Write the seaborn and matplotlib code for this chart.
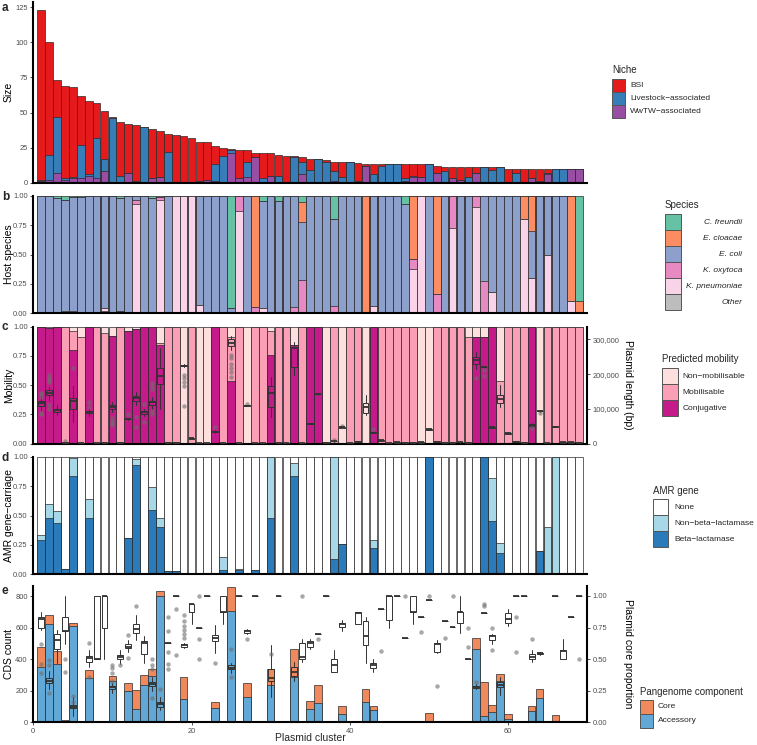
import matplotlib
matplotlib.use("Agg")
import matplotlib.pyplot as plt
import seaborn as sns
import numpy as np
from matplotlib.patches import Rectangle

sns.set_theme(style="white")
plt.rcParams["font.family"] = ["Liberation Sans", "DejaVu Sans"]

clusters = list(range(1, 70))

# ---------------- panel a : cluster size by niche ----------------
niche_bsi = [121, 80, 26, 66, 64, 35, 52, 25, 34, 1, 38, 35, 40, 0, 35, 33, 13, 34, 33, 32,
             28, 27, 13, 6, 1, 20, 8, 3, 18, 16, 15, 19, 1, 3, 8, 0, 1, 7, 11, 0,
             13, 1, 7, 1, 0, 0, 10, 8, 9, 0, 5, 3, 8, 9, 7, 4, 0, 2, 0, 10,
             3, 10, 7, 9, 3, 0, 0, 0, 0]
niche_live = [1, 18, 40, 1, 1, 24, 1, 29, 9, 46, 5, 0, 1, 40, 0, 0, 22, 0, 0, 0,
              0, 0, 12, 19, 2, 0, 11, 0, 3, 0, 5, 0, 18, 9, 9, 17, 15, 7, 4, 15,
              0, 0, 6, 12, 13, 13, 2, 1, 0, 13, 0, 8, 0, 0, 4, 0, 11, 9, 11, 0,
              7, 0, 0, 1, 1, 10, 10, 0, 0]
niche_wwtw = [1, 2, 7, 2, 3, 3, 5, 3, 8, 0, 0, 7, 0, 0, 3, 4, 0, 0, 0, 0,
              1, 2, 1, 0, 21, 3, 4, 18, 0, 5, 0, 0, 0, 6, 0, 0, 0, 1, 0, 0,
              1, 12, 0, 0, 0, 0, 1, 4, 4, 0, 7, 0, 3, 2, 0, 7, 0, 0, 0, 0,
              0, 0, 3, 0, 6, 0, 0, 10, 10]
niche_labels = ["BSI", "Livestock\u2212associated", "WwTW\u2212associated"]
niche_colors = ["#E41A1C", "#377EB8", "#984EA3"]

# ---------------- panel b : host species proportions ----------------
sp_cfreundii = [0, 0, .02, .03, .01, .01, 0, 0, 0, 0, .02, 0, 0, 0, .02, .01, 0, 0, 0, 0,
                0, 0, 0, 0, .96, 0, 0, 0, .04, 0, .04, 0, 0, .05, 0, 0, 0, .20, 0, 0,
                0, 0, 0, 0, 0, 0, .07, 0, 0, 0, 0, 0, 0, 0, 0, 0, 0, 0, 0, 0,
                0, 0, 0, 0, 0, 0, 0, 0, .90]
sp_ecloacae = [0, 0, 0, 0, 0, 0, 0, 0, 0, 0, 0, 0, 0, 0, 0, 0, 0, 0, 0, 0,
               0, 0, 0, 0, 0, 0, 0, .95, 0, 0, 0, 0, 0, .17, 0, 0, 0, 0, 0, 0,
               0, 1, 0, 0, 0, 0, 0, .54, 0, 0, .84, 0, 0, 0, 0, 0, 0, 0, 0, 0,
               0, .20, .30, 0, 0, 0, 0, .90, .10]
sp_ecoli = [1, .99, .97, .95, .97, .98, 1, 1, .96, 1, .96, 1, .03, 1, .98, 0, 1, 0, 0, 0,
            .93, 1, 1, 1, .04, 0, 1, 0, .92, 1, .96, 1, .95, .50, 1, 1, 1, .74, 1, 1,
            1, 0, .94, 1, 1, 1, .93, 0, 0, 1, 0, 1, 0, 1, 1, 0, .73, .82, 1, 1,
            1, 0, .40, 1, .50, 1, 1, 0, 0]
sp_koxytoca = [0, 0, 0, 0, 0, 0, 0, 0, 0, 0, 0, 0, .04, 0, 0, .02, 0, 0, 0, 0,
               0, 0, 0, 0, 0, .13, 0, .05, 0, 0, 0, 0, .05, .28, 0, 0, 0, .06, 0, 0,
               0, 0, 0, 0, 0, 0, 0, .08, 0, 0, .16, 0, .27, 0, 0, .09, .27, 0, 0, 0,
               0, 0, 0, 0, 0, 0, 0, 0, 0]
sp_kpneumoniae = [0, 0, .01, .02, .02, 0, 0, 0, .02, 0, 0, 0, .93, 0, 0, .97, 0, 1, 1, 1,
                  .07, 0, 0, 0, 0, .87, 0, 0, .04, 0, 0, 0, 0, 0, 0, 0, 0, 0, 0, 0,
                  0, 0, .06, 0, 0, 0, 0, .38, 1, 0, 0, 0, .73, 0, 0, .91, 0, .18, 0, 0,
                  0, .80, .30, 0, .50, 0, 0, .10, 0]
sp_other = [0, .01, 0, 0, 0, .01, 0, 0, .02, 0, .02, 0, 0, 0, 0, 0, 0, 0, 0, 0,
            0, 0, 0, 0, 0, 0, 0, 0, 0, 0, 0, 0, 0, 0, 0, 0, 0, 0, 0, 0,
            0, 0, 0, 0, 0, 0, 0, 0, 0, 0, 0, 0, 0, 0, 0, 0, 0, 0, 0, 0,
            0, 0, 0, 0, 0, 0, 0, 0, 0]
species_labels = ["C. freundii", "E. cloacae", "E. coli", "K. oxytoca", "K. pneumoniae", "Other"]
species_colors = ["#66C2A5", "#FC8D62", "#8DA0CB", "#E78AC3", "#F9D3E7", "#BDBDBD"]

# ---------------- panel c : predicted mobility + plasmid length ----------------
mob_conj = [1, .99, 1, 0, .80, 0, 1, 0, 0, .92, 0, .96, .98, 1, 1, .84, 0, 0, 0, 0,
            0, 0, 1, 0, .54, 0, 0, 0, 0, .76, 0, 0, .84, 0, 1, 1, 0, 0, 0, 0,
            0, 0, 1, 0, 0, 0, 0, 0, 0, 0, 0, 0, 0, 0, 0, .91, .91, 1, 0, 0,
            0, 0, 1, 0, 0, 0, 0, 0, 0]
mob_mob = [0, 0, 0, 1, .16, .91, 0, 1, .95, 0, 1, 0, 0, 0, 0, .02, 1, 1, 0, 1,
           0, 0, 0, 1, .37, 1, 0, 1, 1, .20, 1, 1, 0, 1, 0, 0, 0, 1, 0, 1,
           1, 0, 0, 1, 1, 1, 1, 1, 0, 0, 1, 1, 1, 1, .91, 0, 0, 0, .54, 1,
           1, 1, 0, 0, 1, 1, 1, 1, 1]
mob_non = [0, .01, 0, 0, .04, .09, 0, 0, .05, .08, 0, .04, .02, 0, 0, .14, 0, 0, 1, 0,
           1, 1, 0, 0, .09, 0, 1, 0, 0, .04, 0, 0, .16, 0, 0, 0, 1, 0, 1, 0,
           0, 1, 0, 0, 0, 0, 0, 0, 1, 1, 0, 0, 0, 0, .09, .09, .09, 0, .46, 0,
           0, 0, 0, 1, 0, 0, 0, 0, 0]
mobility_labels = ["Non\u2212mobilisable", "Mobilisable", "Conjugative"]
mobility_colors = ["#FDE0DD", "#FA9FB5", "#C51B8A"]

len_med = [116000, 146000, 96000, 3000, 122000, 2000, 90000, 1500, 3000, 106000,
           3000, 71000, 130000, 90000, 119000, 195000, 3000, 3000, 224000, 15000,
           2000, 1500, 34000, 2000, 288000, 1500, 109000, 1500, 1500, 145000,
           3000, 2000, 274000, 2000, 58000, 143000, 3000, 8000, 47000, 2000,
           6000, 104000, 32000, 10000, 2000, 4000, 3000, 3000, 4000, 41000,
           6000, 3000, 3000, 5000, 3000, 240000, 220000, 47000, 128000, 30000,
           6000, 3000, 54000, 94000, 2000, 49000, 4000, 4000, 3000]
len_q1 = [109000, 140000, 90000, 2000, 99000, 1000, 87000, 1000, 2000, 100000,
          2000, 70000, 122000, 86000, 111000, 171000, 2000, 2000, 222000, 14000,
          1000, 1000, 33000, 1000, 280000, 1000, 108000, 1000, 1000, 105000,
          2000, 1000, 221000, 1000, 57000, 142000, 2000, 7000, 46000, 1000,
          5000, 87000, 31000, 9000, 1000, 3000, 2000, 2000, 3000, 40000,
          5000, 2000, 2000, 4000, 2000, 229000, 219000, 46000, 116000, 29000,
          5000, 2000, 50000, 93000, 1000, 48000, 3000, 3000, 2000]
len_q3 = [122000, 153000, 101000, 4000, 132000, 3000, 93000, 2000, 4000, 111000,
          4000, 72000, 137000, 93000, 124000, 216000, 4000, 4000, 226000, 16000,
          3000, 2000, 36000, 3000, 300000, 2000, 110000, 2000, 2000, 166000,
          4000, 3000, 278000, 3000, 59000, 144000, 4000, 9000, 48000, 3000,
          7000, 116000, 33000, 11000, 3000, 5000, 4000, 4000, 5000, 42000,
          7000, 4000, 4000, 6000, 4000, 250000, 221000, 48000, 140000, 31000,
          7000, 4000, 57000, 95000, 3000, 50000, 5000, 5000, 4000]
len_lo = [97000, 125000, 82000, 1000, 61000, 1000, 80000, 1000, 1000, 92000,
          1000, 69000, 111000, 80000, 100000, 101000, 1000, 1000, 220000, 13000,
          1000, 1000, 32000, 1000, 268000, 1000, 107000, 1000, 1000, 77000,
          1000, 1000, 197000, 1000, 56000, 141000, 1000, 6000, 45000, 1000,
          4000, 82000, 30000, 8000, 1000, 2000, 1000, 1000, 2000, 39000,
          4000, 1000, 1000, 3000, 1000, 215000, 218000, 45000, 106000, 28000,
          4000, 1000, 45000, 92000, 1000, 47000, 2000, 2000, 1000]
len_hi = [140000, 164000, 111000, 5000, 167000, 4000, 99000, 3000, 5000, 120000,
          5000, 73000, 149000, 99000, 135000, 274000, 5000, 5000, 228000, 17000,
          4000, 3000, 38000, 4000, 310000, 3000, 111000, 3000, 3000, 192000,
          5000, 4000, 293000, 4000, 60000, 145000, 5000, 10000, 49000, 4000,
          8000, 140000, 34000, 12000, 4000, 6000, 5000, 5000, 6000, 43000,
          8000, 5000, 5000, 7000, 5000, 262000, 222000, 49000, 168000, 32000,
          8000, 5000, 59000, 96000, 4000, 51000, 6000, 6000, 5000]
len_fliers = {1: [147000, 142000, 135000, 89000, 84000],
              2: [197000, 190000, 183000, 178000, 111000, 99000],
              4: [7000], 5: [218000], 7: [119000, 106000],
              10: [73000, 66000, 60000, 54000], 12: [86000], 13: [76000, 49000],
              14: [114000, 63000], 15: [173000, 165000, 158000, 94000, 84000],
              19: [197000, 188000, 178000, 167000, 109000], 23: [49000],
              25: [255000, 245000, 230000, 218000, 207000, 192000], 27: [113000],
              38: [11000], 39: [52000], 43: [41000], 56: [188000],
              57: [212000, 195000], 63: [46000], 64: [88000]}

# ---------------- panel d : AMR gene carriage ----------------
amr_beta = [.29, .48, .44, .045, .84, 0, .48, 0, 0, 0, 0, .31, .93, 0, .55, .40, .03, .03, 0, 0,
            0, 0, 0, .04, 0, .035, 0, .04, 0, .48, 0, 0, .84, 0, 0, 0, 0, .13, .26, 0,
            0, 0, .22, 0, 0, 0, 0, 0, 0, 1, 0, 0, 0, 0, 0, 0, 1, .45, .18, 0,
            0, 0, 0, .20, 0, 0, 0, 0, 0]
amr_nonbeta = [.04, .12, .10, 0, .15, 0, .16, 0, 0, 0, 0, 0, .05, 0, .19, .08, 0, 0, 0, 0,
               0, 0, 0, .11, 0, .01, 0, 0, 0, .52, 0, 0, .11, 0, 0, 0, 0, .87, 0, 0,
               0, 0, .07, 0, 0, 0, 0, 0, 0, 0, 0, 0, 0, 0, 0, 0, 0, .37, .09, 0,
               0, 0, 0, 0, .40, 1, 0, 0, 0]
amr_labels = ["None", "Non\u2212beta\u2212lactamase", "Beta\u2212lactamase"]
amr_colors = ["#FFFFFF", "#A6D8E8", "#2B7BBA"]

# ---------------- panel e : pangenome ----------------
cds_accessory = [349, 622, 372, 8, 612, 2, 279, 2, 2, 260, 3, 197, 83, 235, 294, 800, 8, 8, 146, 5,
                 2, 2, 93, 3, 705, 2, 163, 2, 2, 239, 3, 2, 290, 2, 83, 121, 2, 8, 51, 2,
                 2, 127, 78, 2, 0, 3, 2, 2, 0, 3, 5, 0, 3, 0, 0, 463, 40, 68, 265, 19,
                 3, 0, 70, 152, 0, 0, 3, 0, 0]
cds_core = [127, 59, 79, 4, 21, 0, 53, 0, 0, 34, 0, 51, 122, 63, 47, 36, 3, 3, 144, 5,
            0, 0, 34, 2, 156, 0, 85, 0, 0, 102, 7, 0, 178, 0, 50, 116, 0, 2, 55, 0,
            2, 83, 26, 8, 0, 0, 0, 3, 0, 54, 0, 0, 2, 0, 0, 70, 216, 42, 40, 32,
            0, 0, 34, 60, 0, 47, 0, 0, 0]
pan_labels = ["Core", "Accessory"]
pan_colors = ["#F08A5D", "#62A8D6"]

N = None
core_med = [.815, .33, .65, .72, .124, N, .507, .5, 1.0, .28, .515, .60, .74, .63, .30, .145, .625, 1.0, .61, .94,
            .75, 1.0, .665, .875, .43, 1.0, .72, 1.0, N, .35, 1.0, N, .40, .52, .63, .70, 1.0, .45, .775, N,
            .868, .683, .451, .9, 1.0, 1.0, .665, .876, .83, .966, .623, .8, .752, .87, .5, .277, .868, .68, .295, .82,
            1.0, 1.0, .52, .545, N, 1.0, .565, .83, 1.0]
core_q1 = [.75, .31, .58, .72, .11, N, .48, .5, .75, .26, .50, .59, .71, .54, .29, .12, .625, 1.0, .60, .87,
           .75, 1.0, .64, .875, .42, 1.0, .71, 1.0, N, .33, 1.0, N, .37, .50, .60, .70, 1.0, .40, .757, N,
           .778, .612, .433, .9, .81, 1.0, .665, .876, .83, .966, .557, .8, .752, .784, .5, .27, .868, .65, .28, .784,
           1.0, 1.0, .50, .54, N, 1.0, .50, .83, 1.0]
core_q3 = [.835, .35, .70, .83, .14, N, .525, 1.0, 1.0, .29, .53, .62, .78, .64, .32, .16, .625, 1.0, .62, .94,
           .75, 1.0, .69, 1.0, .45, 1.0, .73, 1.0, N, .42, 1.0, N, .44, .63, .645, .70, 1.0, .50, .79, N,
           .876, .805, .467, .9, 1.0, 1.0, .665, 1.0, .83, .966, .63, .8, .752, .876, .5, .285, .868, .69, .32, .868,
           1.0, 1.0, .54, .55, N, 1.0, .573, .83, 1.0]
core_lo = [.73, .26, .47, .62, .05, N, .44, .5, .5, .23, .46, .56, .65, .47, .25, .10, .625, 1.0, .59, .78,
           .75, 1.0, .55, .78, .39, 1.0, .70, 1.0, N, .20, 1.0, N, .33, .48, .58, .70, 1.0, .40, .72, N,
           .778, .472, .40, .9, .75, 1.0, .665, .78, .83, .966, .55, .8, .752, .705, .5, .26, .868, .62, .22, .76,
           1.0, 1.0, .475, .535, N, 1.0, .50, .83, 1.0]
core_hi = [.876, .41, .73, 1.0, .20, N, .57, 1.0, 1.0, .31, .57, .65, .85, .68, .36, .20, .625, 1.0, .63, .94,
           .75, 1.0, .77, 1.0, .47, 1.0, .74, 1.0, N, .61, 1.0, N, .48, .66, .66, .70, 1.0, .57, .81, N,
           .876, .836, .50, .9, 1.0, 1.0, .665, 1.0, .83, .966, .65, .8, .752, 1.0, .5, .30, .868, .70, .36, .90,
           1.0, 1.0, .57, .555, N, 1.0, .66, .83, 1.0]
core_fliers = {1: [.62, .46, .39], 2: [.49, .45, .23], 4: [.5, .4], 5: [.21, .16], 7: [.63, .36],
               10: [.45, .43, .39, .33], 11: [.45], 12: [.69, .51], 13: [.92], 15: [.5, .45, .42, .19],
               16: [.26], 17: [.83, .72, .56, .46, .42], 18: [.9, .53], 19: [.85, .80, .76, .73, .70, .67],
               21: [1.0, .66, .5], 23: [.47], 25: [.58, .36], 27: [.66], 30: [.54], 34: [1.0], 36: [.66],
               44: [.565], 47: [1.0], 49: [.715], 50: [1.0], 51: [.29], 52: [.665], 53: [1.0],
               55: [.6, .75], 56: [.32], 57: [.94, .92], 58: [.75, .57], 61: [.836, .554], 63: [.657], 69: [.5]}

# ================= drawing =================
W, H = 757, 745
fig = plt.figure(figsize=(W / 100, H / 100), dpi=100)
EDGE = "#2a2a2a"
TICKC = "#4D4D4D"


def rect(top, bottom, left=33.3, right=587.0):
    return [left / W, 1 - bottom / H, (right - left) / W, (bottom - top) / H]


def stacked(ax, layers, colors):
    """layers and colors ordered bottom -> top"""
    cum = np.cumsum(np.array(layers, dtype=float), axis=0)
    for i in range(len(layers) - 1, -1, -1):
        sns.barplot(x=clusters, y=cum[i], color=colors[i], saturation=1, native_scale=True,
                    width=0.97, edgecolor=EDGE, linewidth=0.5, errorbar=None, ax=ax)


def style(ax):
    for s in ["top", "right"]:
        ax.spines[s].set_visible(False)
    for s in ["left", "bottom"]:
        ax.spines[s].set_linewidth(1.5)
        ax.spines[s].set_color("black")
    ax.tick_params(axis="y", length=2.5, width=0.6, color="#333333", labelsize=5.4,
                   labelcolor=TICKC, pad=1.5, left=True)
    ax.set_xlim(0, 70)
    ax.set_xlabel("")


def style_right(ax2):
    for s in ["top", "left", "bottom"]:
        ax2.spines[s].set_visible(False)
    ax2.spines["right"].set_visible(True)
    ax2.spines["right"].set_linewidth(1.5)
    ax2.spines["right"].set_color("black")
    ax2.tick_params(axis="y", length=2.5, width=0.6, color="#333333", labelsize=5.4,
                    labelcolor=TICKC, pad=1.5, right=True)
    ax2.grid(False)


def boxes(ax, med, q1, q3, lo, hi, fliers):
    stats, pos = [], []
    for i, c in enumerate(clusters):
        if med[i] is None:
            continue
        stats.append(dict(med=med[i], q1=q1[i], q3=q3[i], whislo=lo[i], whishi=hi[i],
                          fliers=fliers.get(c, [])))
        pos.append(c)
    ax.bxp(stats, positions=pos, widths=0.75, patch_artist=True, showcaps=False,
           manage_ticks=False,
           boxprops=dict(facecolor="none", edgecolor="#333333", linewidth=0.7),
           medianprops=dict(color="#333333", linewidth=1.3),
           whiskerprops=dict(color="#333333", linewidth=0.7),
           flierprops=dict(marker="o", markerfacecolor="#6e6e6e", markeredgecolor="none",
                           markersize=3.2, alpha=0.6))


YLAB = dict(fontsize=7.5, color="black")

# panel a
ax_a = fig.add_axes(rect(2, 182.7))
stacked(ax_a, [niche_wwtw, niche_live, niche_bsi], niche_colors[::-1])
style(ax_a)
ax_a.set_ylim(0, 128.8)
ax_a.set_yticks([0, 25, 50, 75, 100, 125])
ax_a.set_xticks([])
ax_a.set_ylabel("Size", **YLAB)

# panel b
ax_b = fig.add_axes(rect(196, 313))
stacked(ax_b, [sp_other, sp_kpneumoniae, sp_koxytoca, sp_ecoli, sp_ecloacae, sp_cfreundii],
        species_colors[::-1])
style(ax_b)
ax_b.set_ylim(0, 1)
ax_b.set_yticks([0, .25, .5, .75, 1])
ax_b.set_yticklabels(["0.00", "0.25", "0.50", "0.75", "1.00"])
ax_b.set_xticks([])
ax_b.set_ylabel("Host species", **YLAB)

# panel c
ax_c = fig.add_axes(rect(326.7, 443.7))
stacked(ax_c, [mob_conj, mob_mob, mob_non], mobility_colors[::-1])
style(ax_c)
ax_c.set_ylim(0, 1)
ax_c.set_yticks([0, .25, .5, .75, 1])
ax_c.set_yticklabels(["0.00", "0.25", "0.50", "0.75", "1.00"])
ax_c.set_xticks([])
ax_c.set_ylabel("Mobility", **YLAB)
ax_c2 = ax_c.twinx()
boxes(ax_c2, len_med, len_q1, len_q3, len_lo, len_hi, len_fliers)
style_right(ax_c2)
ax_c2.set_ylim(0, 336000)
ax_c2.set_yticks([0, 100000, 200000, 300000])
ax_c2.set_yticklabels(["0", "100,000", "200,000", "300,000"])
ax_c2.set_ylabel("Plasmid length (bp)", rotation=270, **YLAB)

# panel d
ax_d = fig.add_axes(rect(456.7, 574.3))
stacked(ax_d, [amr_beta, amr_nonbeta, [1.0 - b - n for b, n in zip(amr_beta, amr_nonbeta)]],
        amr_colors[::-1])
style(ax_d)
ax_d.set_ylim(0, 1)
ax_d.set_yticks([0, .25, .5, .75, 1])
ax_d.set_yticklabels(["0.00", "0.25", "0.50", "0.75", "1.00"])
ax_d.set_xticks([])
ax_d.set_ylabel("AMR gene\u2212carriage", **YLAB)

# panel e
ax_e = fig.add_axes(rect(586, 722.3))
stacked(ax_e, [cds_accessory, cds_core], pan_colors[::-1])
style(ax_e)
ax_e.set_ylim(0, 865)
ax_e.set_yticks([0, 200, 400, 600, 800])
ax_e.set_xticks([0, 20, 40, 60])
ax_e.set_xticklabels(["0", "20", "40", "60"])
ax_e.tick_params(axis="x", length=2.5, width=0.6, color="#333333", labelsize=5.4,
                 labelcolor=TICKC, pad=1.5, bottom=True)
ax_e.set_ylabel("CDS count", **YLAB)
ax_e.set_xlabel("Plasmid cluster", fontsize=7.5)
ax_e2 = ax_e.twinx()
boxes(ax_e2, core_med, core_q1, core_q3, core_lo, core_hi, core_fliers)
style_right(ax_e2)
ax_e2.set_ylim(0, 1.079)
ax_e2.set_yticks([0, .25, .5, .75, 1])
ax_e2.set_yticklabels(["0.00", "0.25", "0.50", "0.75", "1.00"])
ax_e2.set_ylabel("Plasmid core proportion", rotation=270, **YLAB)

for ax in [ax_a, ax_b, ax_c, ax_d, ax_e]:
    ax.yaxis.set_label_coords(-0.044, 0.5)
    ax.yaxis.label.set_va("center")
    ax.yaxis.label.set_ha("center")
    ax.set_xlim(0, 70)
for ax2 in [ax_c2, ax_e2]:
    ax2.yaxis.set_label_coords(1.0735, 0.5)
    ax2.yaxis.label.set_va("center")
    ax2.yaxis.label.set_ha("center")
    ax2.set_xlim(0, 70)

# x label placed explicitly (centre ~y=738 px)
ax_e.xaxis.set_label_coords(0.5, -(738 - 722.3) / 136.3)
ax_e.xaxis.label.set_va("center")

# panel letters
for letter, y in [("a", 8), ("b", 197), ("c", 327), ("d", 458), ("e", 591)]:
    fig.text(2 / W, 1 - y / H, letter, fontsize=8.5, fontweight="bold", va="center", ha="left")


# legends (drawn manually to mimic ggplot guides)
def legend_block(title, labels, colors, tx, ty, kx, ktop, kw, kh, lx, ha="left", italic=False):
    fig.text(tx / W, 1 - ty / H, title, fontsize=7, ha="left", va="center")
    for j, (lab, col) in enumerate(zip(labels, colors)):
        top = ktop + j * kh
        fig.patches.append(Rectangle((kx / W, 1 - (top + kh) / H), kw / W, kh / H,
                                     transform=fig.transFigure, facecolor=col,
                                     edgecolor="#555555", linewidth=0.7))
        fig.text(lx / W, 1 - (top + kh / 2) / H, lab, fontsize=6, ha=ha, va="center",
                 style="italic" if italic else "normal")


legend_block("Niche", niche_labels, niche_colors, 612, 70, 612, 79, 13, 13, 630)
legend_block("Species", species_labels, species_colors, 665, 205, 665, 214.3, 15.5, 16, 742,
             ha="right", italic=True)
legend_block("Predicted mobility", mobility_labels, mobility_colors, 662, 359, 662, 368.3, 15.5, 16, 682.5)
legend_block("AMR gene", amr_labels, amr_colors, 652.7, 490.7, 652.7, 499.3, 15.5, 16, 674.5)
legend_block("Pangenome component", pan_labels, pan_colors, 640, 692, 640, 700, 13, 14, 658)

fig.savefig("out.png", dpi=100)
